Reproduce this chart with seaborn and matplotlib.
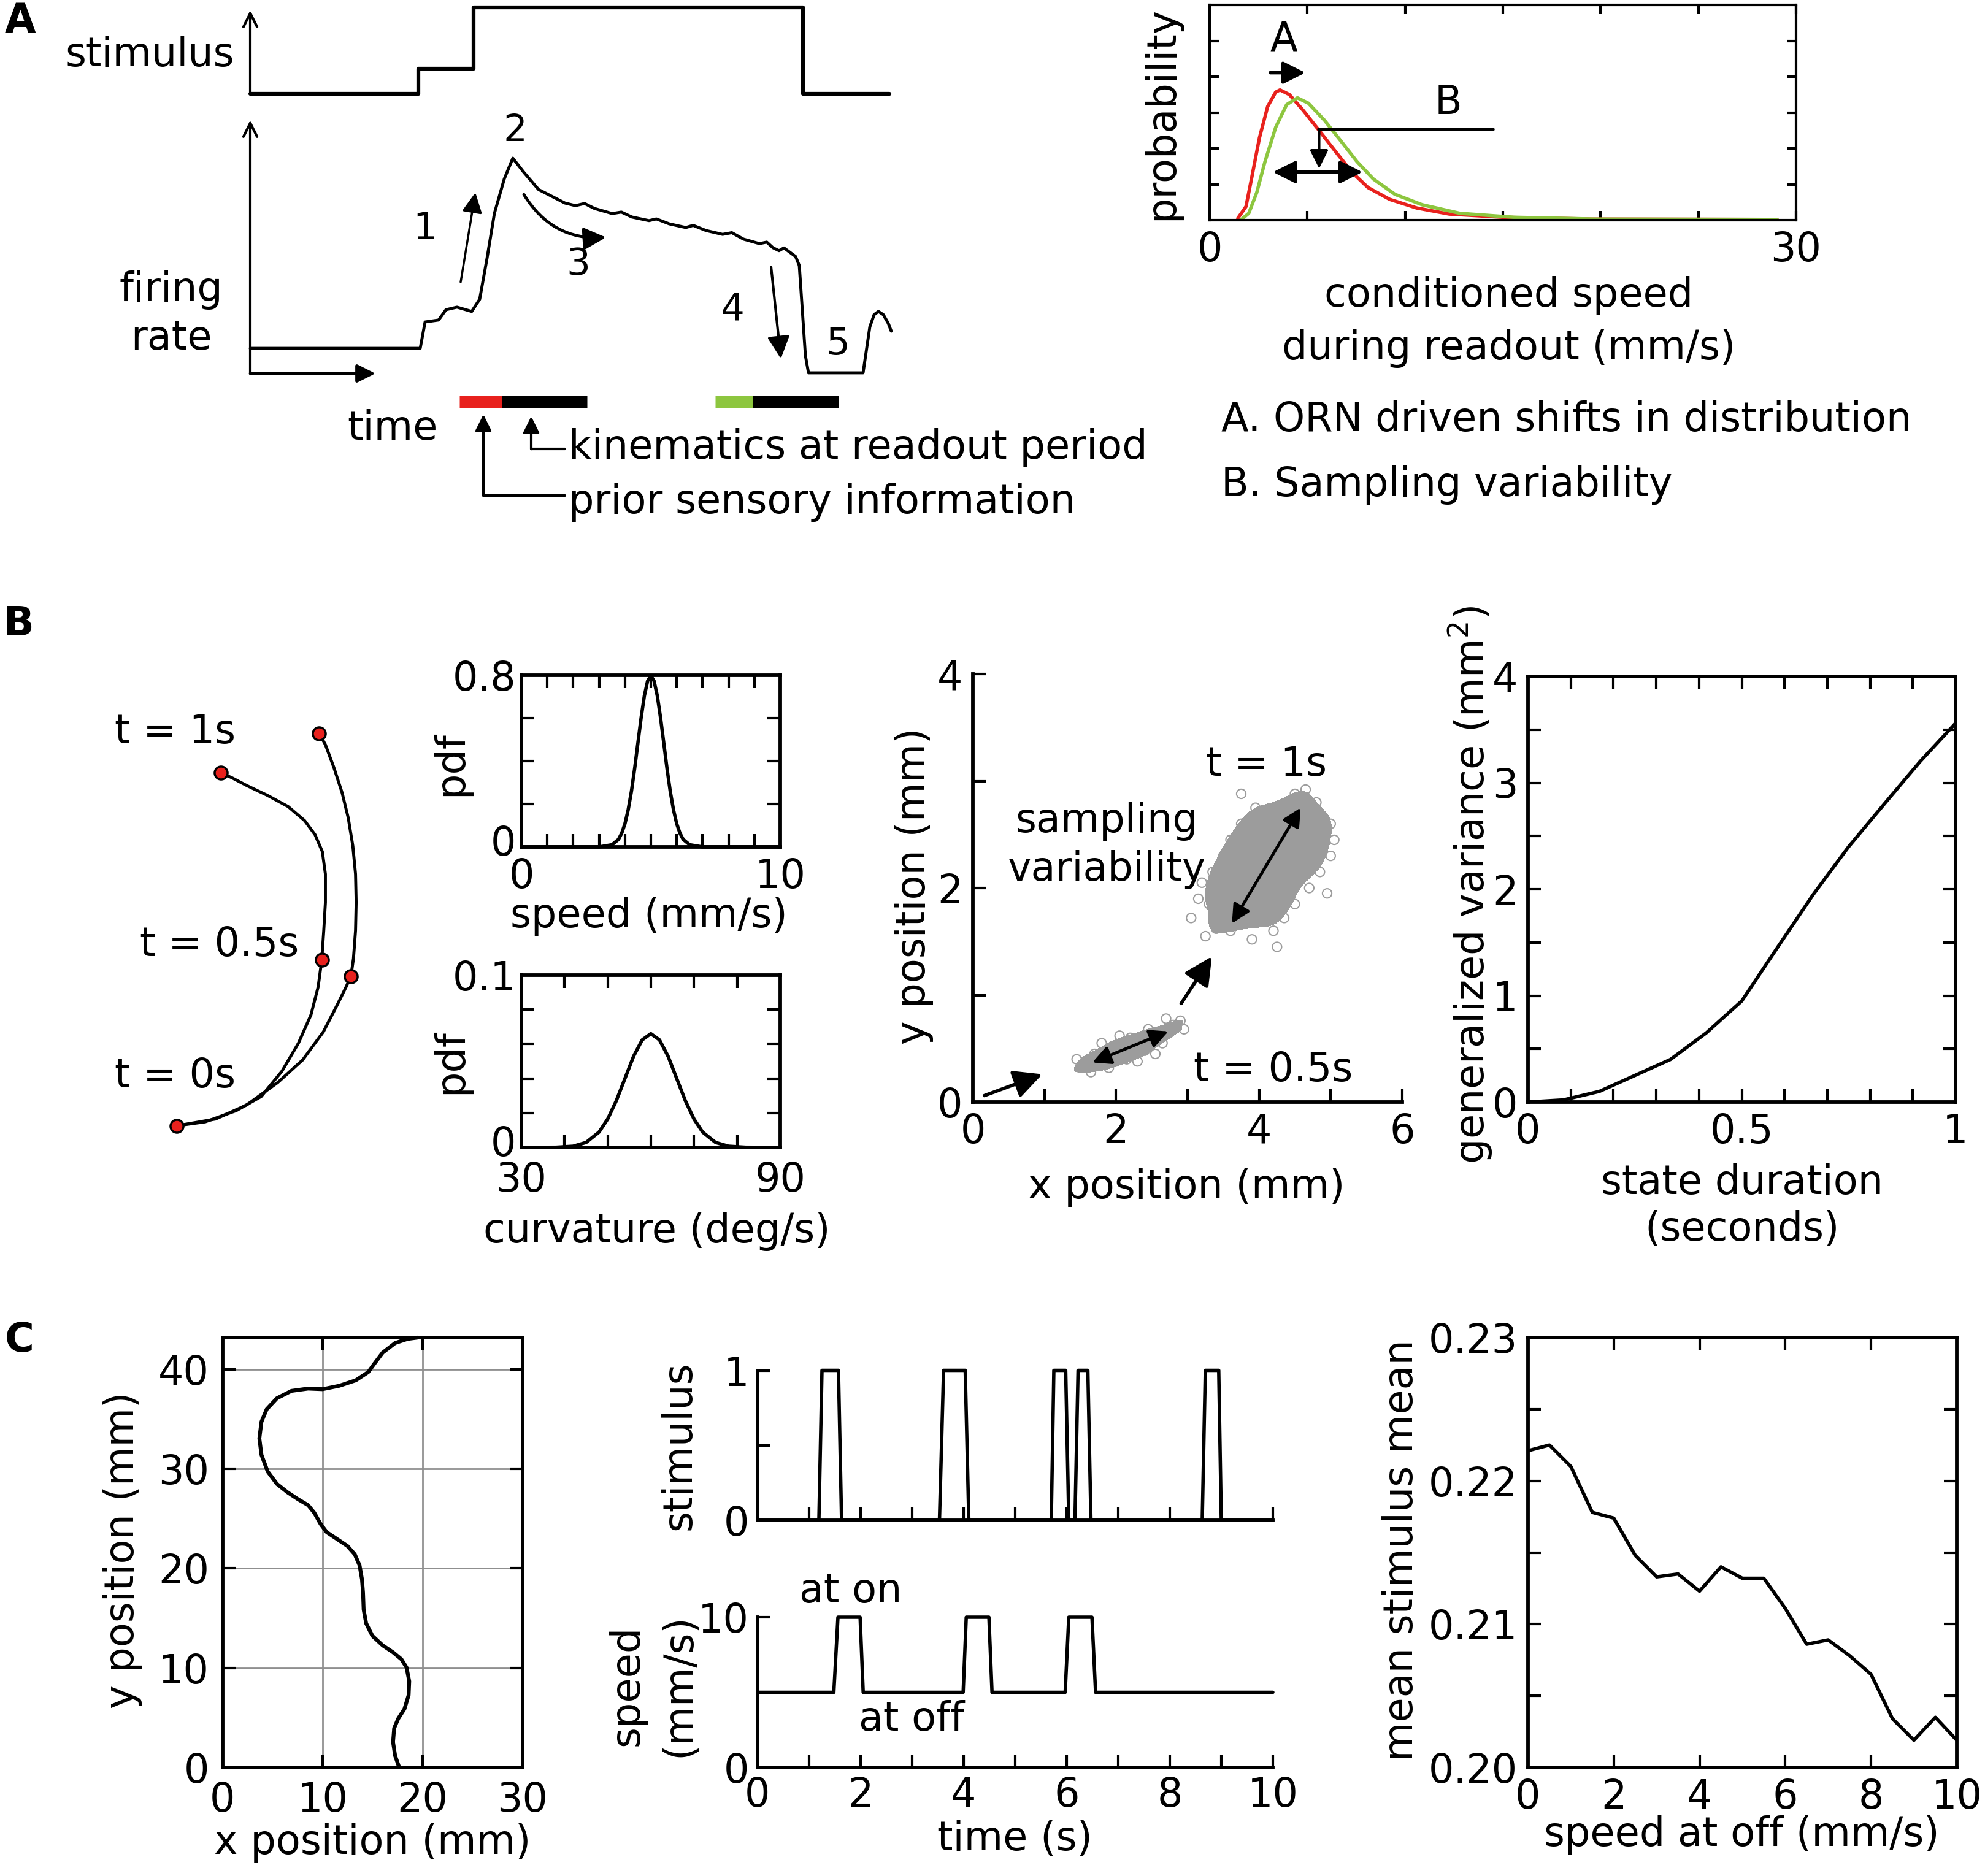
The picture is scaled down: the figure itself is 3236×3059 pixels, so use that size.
import matplotlib
matplotlib.use("Agg")
import matplotlib.pyplot as plt
from matplotlib.colors import ListedColormap
from matplotlib.transforms import ScaledTranslation
import seaborn as sns

W, H = 3236, 3059
DPI = 100
FS = 47
LW = 4.2

RED = "#e8211d"
GREEN = "#8dc63f"
GRAY = "#9c9c9c"

# ---- A: schematic stimulus and firing rate (time in a.u.)
stim_t = [0, 2.74, 2.74, 3.64, 3.64, 9.01, 9.01, 10.42]
stim_level = [0, 0, 0.29, 0.29, 1, 1, 0, 0]
rate_t = [0, 2.77, 2.85, 3.07, 3.19, 3.37, 3.61, 3.74, 3.86, 3.98,
          4.14, 4.28, 4.46, 4.70, 5.13, 5.30, 5.45, 5.61, 5.90, 6.05,
          6.22, 6.50, 6.62, 6.83, 7.10, 7.22, 7.43, 7.70, 7.85, 8.04,
          8.30, 8.42, 8.52, 8.62, 8.70, 8.89, 8.95, 9.05, 9.10, 9.99,
          10.05, 10.10, 10.17, 10.24, 10.32, 10.40, 10.45]
rate_v = [1.17, 1.17, 2.40, 2.49, 2.97, 3.09, 2.89, 3.46, 5.37, 7.46,
          9.06, 10.03, 9.37, 8.57, 7.94, 7.82, 7.92, 7.69, 7.45, 7.52,
          7.29, 7.12, 7.20, 6.97, 6.80, 6.90, 6.66, 6.48, 6.56, 6.26,
          6.05, 6.12, 5.86, 5.72, 5.85, 5.45, 5.03, 0.83, 0.03, 0.03,
          1.20, 2.17, 2.74, 2.89, 2.74, 2.34, 1.97]

# ---- A: conditioned speed distributions
red_x = [1.44, 1.86, 2.14, 2.55, 2.97, 3.38, 3.60, 4.08, 4.77, 5.60,
         6.43, 7.27, 8.10, 9.21, 10.59, 12.26, 15.03, 19.55, 29.03]
red_p = [0.005, 0.038, 0.115, 0.230, 0.317, 0.357, 0.363, 0.350, 0.307, 0.250,
         0.192, 0.134, 0.091, 0.058, 0.034, 0.017, 0.008, 0.003, 0.002]
green_x = [1.58, 2.00, 2.41, 2.83, 3.38, 3.94, 4.49, 5.05, 5.88, 6.71,
           7.54, 8.37, 9.48, 10.87, 12.81, 15.58, 19.74, 29.03]
green_p = [0.0, 0.019, 0.077, 0.163, 0.259, 0.322, 0.341, 0.326, 0.278, 0.221,
           0.163, 0.115, 0.072, 0.043, 0.019, 0.008, 0.003, 0.002]

# ---- B: example paths (mm)
path1_x = [0, 0.47, 0.977, 1.383, 1.721, 1.991, 2.194, 2.312, 2.37, 2.403,
           2.43, 2.43, 2.38, 2.261, 2.092, 1.822, 1.484, 1.146, 0.909, 0.724]
path1_y = [0, 0.065, 0.248, 0.478, 0.891, 1.35, 1.809, 2.268, 2.704, 3.186,
           3.645, 4.104, 4.471, 4.747, 4.976, 5.206, 5.389, 5.55, 5.674, 5.756]
path2_x = [0, 0.639, 1.146, 1.653, 2.059, 2.397, 2.633, 2.768, 2.846, 2.887,
           2.921, 2.931, 2.921, 2.877, 2.802, 2.701, 2.566, 2.43, 2.329]
path2_y = [0, 0.111, 0.34, 0.707, 1.075, 1.534, 1.993, 2.268, 2.442, 2.727,
           3.186, 3.645, 4.104, 4.563, 5.022, 5.435, 5.848, 6.215, 6.399]
dot_x = [0, 2.37, 0.724, 2.846, 2.329]
dot_y = [0, 2.704, 5.756, 2.442, 6.399]

# ---- B: speed and curvature pdfs
speed_x = [0, 3.0, 3.5, 3.75, 3.875, 4.0, 4.125, 4.25, 4.375, 4.5, 4.625, 4.75, 4.875, 5.0,
           5.125, 5.25, 5.375, 5.5, 5.625, 5.75, 5.875, 6.0, 6.125, 6.25, 6.5, 7.0, 10]
speed_pdf = [0, 0.0, 0.01, 0.035, 0.064, 0.108, 0.173, 0.259, 0.365, 0.484, 0.602, 0.704, 0.773, 0.798,
             0.773, 0.704, 0.602, 0.484, 0.365, 0.259, 0.173, 0.108, 0.064, 0.035, 0.01, 0.0, 0]
curv_x = [30, 38, 42, 45, 48, 50, 52, 54, 56, 58, 60, 62, 64, 66, 68, 70, 72, 75, 78, 82, 90]
curv_pdf = [0, 0.0001, 0.0007, 0.0029, 0.0089, 0.0165, 0.0271, 0.040, 0.0529, 0.0624, 0.066,
            0.0624, 0.0529, 0.040, 0.0271, 0.0165, 0.0089, 0.0029, 0.0007, 0.0001, 0]

# ---- B: endpoint clouds at t = 0.5 s and t = 1 s
small_x = [1.50, 1.60, 1.75, 1.90, 1.70, 1.85, 2.00, 2.15, 1.95, 2.10, 2.25, 2.40, 2.20, 2.35,
           2.50, 2.65, 2.45, 2.60, 2.75, 2.80, 2.90, 2.05, 1.80, 2.30, 2.55, 1.65, 2.70, 2.95,
           1.45, 1.75, 1.90, 2.05, 2.20, 2.30, 2.45, 2.60, 2.15, 2.00, 1.60]
small_y = [0.32, 0.38, 0.35, 0.32, 0.45, 0.45, 0.42, 0.40, 0.52, 0.52, 0.50, 0.48, 0.60, 0.60,
           0.58, 0.55, 0.68, 0.66, 0.65, 0.72, 0.76, 0.62, 0.55, 0.38, 0.45, 0.28, 0.78, 0.68,
           0.40, 0.40, 0.48, 0.47, 0.45, 0.55, 0.55, 0.60, 0.55, 0.38, 0.33]
big_x = [3.25, 3.60, 3.90, 4.20, 3.45, 3.75, 4.05, 4.35, 3.30, 3.60, 3.90, 4.20, 4.50, 3.50,
         3.80, 4.10, 4.40, 4.70, 3.35, 3.65, 3.95, 4.25, 4.55, 4.85, 3.50, 3.80, 4.10, 4.40,
         4.70, 5.00, 3.60, 3.90, 4.20, 4.50, 4.80, 3.75, 4.05, 4.35, 4.65, 4.90, 3.95, 4.25,
         4.55, 4.80, 4.50, 4.65, 3.20, 5.05, 3.40, 3.75, 4.25, 3.05, 4.95, 3.15, 5.00,
         3.70, 4.00, 4.30, 3.55, 3.85, 4.15, 4.45, 4.75, 3.70, 4.00, 4.30, 4.60, 3.85, 4.15,
         4.45, 4.75, 3.60, 3.90, 4.20, 4.00, 4.30, 4.60]
big_y = [1.55, 1.60, 1.52, 1.60, 1.72, 1.70, 1.75, 1.72, 1.85, 1.88, 1.85, 1.90, 1.85, 2.00,
         2.02, 2.00, 2.05, 2.00, 2.15, 2.15, 2.18, 2.15, 2.20, 2.15, 2.30, 2.30, 2.32, 2.30,
         2.35, 2.30, 2.45, 2.45, 2.48, 2.45, 2.50, 2.60, 2.60, 2.62, 2.60, 2.65, 2.75, 2.75,
         2.78, 2.80, 2.88, 2.92, 2.05, 2.45, 1.62, 2.88, 1.45, 1.72, 1.95, 1.90, 2.60,
         1.95, 1.92, 1.98, 2.22, 2.24, 2.24, 2.26, 2.26, 2.38, 2.38, 2.40, 2.40, 2.52, 2.54,
         2.54, 2.56, 1.78, 1.78, 1.82, 2.68, 2.68, 2.70]

# ---- B: generalized variance vs state duration
dur_s = [0, 0.083, 0.167, 0.25, 0.333, 0.417, 0.5, 0.583, 0.667, 0.75, 0.833, 0.917, 1.0]
gen_var = [0, 0.02, 0.1, 0.25, 0.4, 0.65, 0.95, 1.45, 1.95, 2.4, 2.8, 3.2, 3.56]

# ---- C: track, stimulus and speed time courses, conditioned stimulus mean
track_x = [17.66, 17.25, 17.04, 17.15, 17.56, 18.18, 18.60, 18.66, 18.39, 17.87, 17.04,
           16.01, 14.97, 14.35, 14.10, 14.04, 13.93, 13.69, 13.21, 12.48, 11.44, 10.41,
           9.79, 9.17, 8.54, 7.51, 6.47, 5.43, 4.50, 3.88, 3.67, 3.88, 4.40, 5.43, 6.88,
           8.54, 9.99, 11.65, 13.31, 14.56, 15.17, 16.00, 17.25, 18.49, 19.53]
track_y = [0, 1.17, 2.55, 3.94, 4.91, 5.88, 7.27, 8.66, 10.04, 10.88, 11.57,
           12.26, 13.23, 14.48, 15.87, 17.54, 18.92, 20.31, 21.42, 22.25, 22.95, 23.64,
           24.47, 25.58, 26.36, 26.97, 27.66, 28.49, 29.74, 31.41, 33.07, 34.74, 35.99, 37.10, 37.84,
           38.07, 38.01, 38.35, 38.90, 39.73, 40.57, 41.68, 42.65, 43.06, 43.2]
stim_c_t = [0, 1.19, 1.25, 1.57, 1.63, 3.53, 3.61, 4.03, 4.10, 5.70, 5.75, 5.98, 6.04,
            6.16, 6.22, 6.41, 6.47, 8.63, 8.69, 8.95, 9.00, 10]
stim_c_v = [0, 0, 1, 1, 0, 0, 1, 1, 0, 0, 1, 1, 0, 0, 1, 1, 0, 0, 1, 1, 0, 0]
speed_c_t = [0, 1.48, 1.56, 1.99, 2.05, 3.99, 4.05, 4.49, 4.55, 5.97, 6.04, 6.49, 6.56, 10]
speed_c_v = [5, 5, 10, 10, 5, 5, 10, 10, 5, 5, 10, 10, 5, 5]
off_speed = [0, 0.5, 1, 1.5, 2, 2.5, 3, 3.5, 4, 4.5, 5, 5.5, 6, 6.5, 7, 7.5, 8, 8.5, 9, 9.5, 10]
stim_mean = [0.2221, 0.2225, 0.2210, 0.2178, 0.2174, 0.2148, 0.2133, 0.2135, 0.2123, 0.2140,
             0.2132, 0.2132, 0.2111, 0.2086, 0.2089, 0.2078, 0.2065, 0.2034, 0.2019, 0.2035, 0.2019]


def add_box(fig, x0, y0, x1, y1):
    """Axes placed by pixel box of the full figure"""
    return fig.add_axes([x0 / W, 1 - y1 / H, (x1 - x0) / W, (y1 - y0) / H])


def line(ax, x, y, color="k", lw=LW, **kw):
    sns.lineplot(x=x, y=y, ax=ax, color=color, lw=lw, sort=False,
                 estimator=None, legend=False, **kw)


def arrow(ax, start, end, style="-|>", lw=3, scale=50, **kw):
    ax.annotate("", xy=end, xytext=start, annotation_clip=False,
                arrowprops=dict(arrowstyle=style, lw=lw, color="k", mutation_scale=scale,
                                shrinkA=0, shrinkB=0, **kw))


def style(ax, box=True, pad=12, lw=LW, length=15):
    ax.spines["top"].set_visible(box)
    ax.spines["right"].set_visible(box)
    for s in ax.spines.values():
        s.set_linewidth(lw)
    for which in ["major", "minor"]:
        ax.tick_params(which=which, direction="in", length=length, width=3,
                       top=box, right=box, labelsize=FS, pad=pad)


def labels(ax, fig, xlabel=None, xc=None, ylabel=None, yc=None, xls=1.2, yls=1.2):
    if xlabel is not None:
        ax.set_xlabel(xlabel, va="center", ha="center", linespacing=xls, fontsize=FS)
        ax.xaxis.set_label_coords(xc[0] / W, 1 - xc[1] / H, transform=fig.transFigure)
    if ylabel is not None:
        ax.set_ylabel(ylabel, va="center", ha="center", linespacing=yls, fontsize=FS)
        ax.yaxis.set_label_coords(yc[0] / W, 1 - yc[1] / H, transform=fig.transFigure)


def lift_first_ylabel(ax, fig, points=8):
    """Nudge the lowest y tick label up so it clears the x tick label below"""
    lbl = ax.get_yticklabels()[0]
    lbl.set_transform(lbl.get_transform() + ScaledTranslation(0, points / 72, fig.dpi_scale_trans))


def plot_a_schematic(fig):
    ax = add_box(fig, 150, 5.3, 1460, 166.6)
    ax.set_xlim(-2.58, 10.52)
    ax.set_ylim(-0.1, 1.05)
    ax.axis("off")
    line(ax, stim_t, stim_level, lw=4.5)
    arrow(ax, (0, 0), (0, 0.967), style="->", lw=3, scale=40)
    ax.text(-0.26, 0.446, "stimulus", ha="right", va="center", fontsize=FS)

    ax = add_box(fig, 150, 189, 1460, 882)
    ax.set_xlim(-2.58, 10.52)
    ax.set_ylim(-7.8, 12)
    ax.axis("off")
    line(ax, rate_t, rate_v, lw=3.5)
    arrow(ax, (0, 0), (0, 11.8), style="->", lw=3, scale=40)
    arrow(ax, (0, 0), (2.04, 0), style="-|>", lw=3.5, scale=45)
    ax.text(-1.29, 2.77, "firing\nrate", ha="center", va="center", fontsize=FS, linespacing=1.3)

    arrow(ax, (3.43, 4.26), (3.67, 8.43), lw=2.5, scale=50)
    arrow(ax, (4.46, 8.34), (5.80, 6.34), lw=3.5, scale=55, connectionstyle="arc3,rad=0.3")
    arrow(ax, (8.49, 4.97), (8.65, 0.69), lw=3, scale=55)
    for num, (x, y) in zip("12345", [(2.85, 6.74), (4.32, 11.3), (5.35, 5.06),
                                     (7.86, 2.97), (9.58, 1.37)]):
        ax.text(x, y, num, ha="center", va="center", fontsize=FS - 3)

    # readout bars
    ax.plot([3.41, 4.10], [-1.31, -1.31], color=RED, lw=14, solid_capstyle="butt")
    ax.plot([4.10, 5.49], [-1.31, -1.31], color="k", lw=14, solid_capstyle="butt")
    ax.plot([7.58, 8.19], [-1.31, -1.31], color=GREEN, lw=14, solid_capstyle="butt")
    ax.plot([8.19, 9.59], [-1.31, -1.31], color="k", lw=14, solid_capstyle="butt")
    ax.text(2.32, -2.57, "time", ha="center", va="center", fontsize=FS)

    ax.plot([3.80, 5.13], [-5.69, -5.69], color="k", lw=3)
    arrow(ax, (3.80, -5.69), (3.80, -1.91), lw=3, scale=40)
    ax.text(5.19, -6.0, "prior sensory information", ha="left", va="center", fontsize=FS)
    ax.plot([4.58, 5.13], [-3.52, -3.52], color="k", lw=3)
    arrow(ax, (4.58, -3.52), (4.58, -2.0), lw=3, scale=40)
    ax.text(5.19, -3.45, "kinematics at readout period", ha="left", va="center", fontsize=FS)


def plot_a_distribution(fig):
    ax = add_box(fig, 1972, 8, 2928, 359)
    line(ax, red_x, red_p, color=RED, lw=4)
    line(ax, green_x, green_p, color=GREEN, lw=4)
    ax.set_xlim(0, 30)
    ax.set_ylim(0, 0.6)
    ax.set_xticks([0, 30])
    ax.set_xticks([5, 10, 15, 20, 25], minor=True)
    ax.set_yticks([0.1, 0.2, 0.3, 0.4, 0.5])
    style(ax, lw=3, length=11)
    ax.tick_params(labelleft=False)

    ax.text(3.8, 0.504, "A", ha="center", va="center", fontsize=FS)
    arrow(ax, (3.1, 0.411), (4.9, 0.411), lw=4, scale=55)
    ax.text(12.2, 0.326, "B", ha="center", va="center", fontsize=FS)
    ax.plot([5.6, 14.5], [0.253, 0.253], color="k", lw=4)
    arrow(ax, (5.6, 0.253), (5.6, 0.144), lw=3, scale=45)
    arrow(ax, (3.24, 0.134), (7.82, 0.134), style="<|-|>", lw=4, scale=55)

    labels(ax, fig, "conditioned speed\nduring readout (mm/s)", (2460, 525),
           "probability", (1894, 185), xls=1.45)
    fig.text(1991 / W, 1 - 685 / H, "A. ORN driven shifts in distribution",
             ha="left", va="center", fontsize=FS)
    fig.text(1991 / W, 1 - 791 / H, "B. Sampling variability",
             ha="left", va="center", fontsize=FS)


def plot_b_paths(fig):
    ax = add_box(fig, 137.5, 1135.8, 657.5, 1895.8)
    ax.set_xlim(-1.5, 3.7)
    ax.set_ylim(-0.6, 7.0)
    ax.axis("off")
    line(ax, path1_x, path1_y, lw=3.5)
    line(ax, path2_x, path2_y, lw=3.5)
    sns.scatterplot(x=dot_x, y=dot_y, ax=ax, color=RED, edgecolor="k", s=230,
                    linewidth=2.5, zorder=5, legend=False)
    ax.text(-0.02, 6.42, "t = 1s", ha="center", va="center", fontsize=FS)
    ax.text(0.70, 2.95, "t = 0.5s", ha="center", va="center", fontsize=FS)
    ax.text(-0.02, 0.81, "t = 0s", ha="center", va="center", fontsize=FS)


def plot_b_pdfs(fig):
    ax = add_box(fig, 850, 1101, 1272, 1381)
    line(ax, speed_x, speed_pdf, lw=4, clip_on=False)
    ax.set_xlim(0, 10)
    ax.set_ylim(0, 0.8)
    ax.set_xticks([0, 10])
    ax.set_xticks(range(1, 10), minor=True)
    ax.set_yticks([0, 0.8], labels=["0", "0.8"])
    ax.set_yticks([0.2, 0.4, 0.6], minor=True)
    style(ax, pad=6)
    ax.tick_params(axis="x", pad=12)
    lift_first_ylabel(ax, fig)
    labels(ax, fig, "speed (mm/s)", (1058, 1494), "pdf", (735, 1245))

    ax = add_box(fig, 850, 1590, 1272, 1871)
    line(ax, curv_x, curv_pdf, lw=4)
    ax.set_xlim(30, 90)
    ax.set_ylim(0, 0.1)
    ax.set_xticks([30, 90])
    ax.set_xticks([40, 50, 60, 70, 80], minor=True)
    ax.set_yticks([0, 0.1], labels=["0", "0.1"])
    ax.set_yticks([0.02, 0.04, 0.06, 0.08], minor=True)
    style(ax, pad=6)
    ax.tick_params(axis="x", pad=16)
    lift_first_ylabel(ax, fig)
    labels(ax, fig, "curvature (deg/s)", (1071, 2008), "pdf", (735, 1731))


def plot_b_scatter(fig):
    ax = add_box(fig, 1586, 1099, 2286, 1797)
    cmap = ListedColormap([GRAY])
    sns.kdeplot(x=big_x, y=big_y, ax=ax, fill=True, levels=[0.3, 1], cmap=cmap, bw_adjust=0.8)
    sns.kdeplot(x=small_x, y=small_y, ax=ax, fill=True, levels=[0.3, 1], cmap=cmap, bw_adjust=0.8)
    for xs, ys in [(big_x, big_y), (small_x, small_y)]:
        sns.scatterplot(x=xs, y=ys, ax=ax, marker="o", s=120, color=GRAY, facecolor="none",
                        edgecolor=GRAY, linewidth=1.5, legend=False)
    ax.set_xlim(0, 6)
    ax.set_ylim(0, 4)
    ax.set_xticks([0, 2, 4, 6])
    ax.set_xticks([1, 3, 5], minor=True)
    ax.set_yticks([0, 2, 4])
    ax.set_yticks([1, 3], minor=True)
    style(ax, box=False, pad=12)

    arrow(ax, (0.16, 0.06), (0.97, 0.26), lw=4, scale=70)
    arrow(ax, (2.91, 0.92), (3.34, 1.36), lw=4, scale=70)
    arrow(ax, (1.67, 0.37), (2.73, 0.66), style="<|-|>", lw=3.5, scale=45)
    arrow(ax, (3.62, 1.67), (4.58, 2.75), style="<|-|>", lw=3.5, scale=45)
    ax.text(4.1, 3.15, "t = 1s", ha="center", va="center", fontsize=FS)
    ax.text(4.2, 0.30, "t = 0.5s", ha="center", va="center", fontsize=FS)
    ax.text(1.87, 2.4, "sampling\nvariability", ha="center", va="center",
            fontsize=FS, linespacing=1.3)
    labels(ax, fig, "x position (mm)", (1934, 1936), "y position (mm)", (1490, 1445))


def plot_b_variance(fig):
    ax = add_box(fig, 2491, 1103, 3188, 1797)
    line(ax, dur_s, gen_var, lw=4)
    ax.set_xlim(0, 1)
    ax.set_ylim(0, 4)
    ax.set_xticks([0, 0.5, 1], labels=["0", "0.5", "1"])
    ax.set_xticks([0.1, 0.2, 0.3, 0.4, 0.6, 0.7, 0.8, 0.9], minor=True)
    ax.set_yticks([0, 1, 2, 3, 4])
    ax.set_yticks([0.5, 1.5, 2.5, 3.5], minor=True)
    style(ax, pad=12)
    labels(ax, fig, "state duration\n(seconds)", (2840, 1967),
           "generalized variance (mm$^2$)", (2397, 1443), xls=1.25)


def plot_c_track(fig):
    ax = add_box(fig, 363, 2181, 852, 2882)
    ax.grid(True, color="#8f8f8f", lw=2)
    ax.set_axisbelow(True)
    line(ax, track_x, track_y, lw=4.5, clip_on=False)
    ax.set_xlim(0, 30)
    ax.set_ylim(0, 43.2)
    ax.set_xticks([0, 10, 20, 30])
    ax.set_yticks([0, 10, 20, 30, 40])
    style(ax, pad=16)
    labels(ax, fig, "x position (mm)", (607, 3005), "y position (mm)", (200, 2528))


def plot_c_timecourse(fig):
    ax = add_box(fig, 1235, 2234.5, 2075, 2479)
    line(ax, stim_c_t, stim_c_v, lw=4, clip_on=False)
    ax.set_xlim(0, 10)
    ax.set_ylim(0, 1)
    ax.set_xticks(range(0, 11))
    ax.set_yticks([0, 1])
    ax.set_yticks([0.5], minor=True)
    style(ax, box=False, pad=10)
    ax.tick_params(labelbottom=False)
    labels(ax, fig, ylabel="stimulus", yc=(1107, 2357))

    ax = add_box(fig, 1235, 2637, 2075, 2882)
    line(ax, speed_c_t, speed_c_v, lw=4, clip_on=False)
    ax.set_xlim(0, 10)
    ax.set_ylim(0, 10)
    ax.set_xticks([0, 2, 4, 6, 8, 10])
    ax.set_xticks([1, 3, 5, 7, 9], minor=True)
    ax.set_yticks([0, 10])
    style(ax, box=False, pad=10)
    ax.text(1.80, 11.7, "at on", ha="center", va="center", fontsize=FS)
    ax.text(2.99, 3.2, "at off", ha="center", va="center", fontsize=FS)
    labels(ax, fig, "time (s)", (1654, 2999), "speed\n(mm/s)", (1065, 2748), yls=1.4)


def plot_c_mean(fig):
    ax = add_box(fig, 2491, 2181, 3190, 2882)
    line(ax, off_speed, stim_mean, lw=4)
    ax.set_xlim(0, 10)
    ax.set_ylim(0.20, 0.23)
    ax.set_xticks([0, 2, 4, 6, 8, 10])
    ax.set_yticks([0.20, 0.21, 0.22, 0.23], labels=["0.20", "0.21", "0.22", "0.23"])
    ax.set_yticks([0.205, 0.215, 0.225], minor=True)
    style(ax, pad=12)
    labels(ax, fig, "speed at off (mm/s)", (2839, 2992), "mean stimulus mean", (2285, 2528))


def main():
    sns.set_style("ticks", rc={"axes.edgecolor": "black", "text.color": "black",
                               "xtick.color": "black", "ytick.color": "black",
                               "axes.labelcolor": "black"})
    plt.rcParams["font.family"] = ["DejaVu Sans"]
    plt.rcParams["font.size"] = FS

    fig = plt.figure(figsize=(W / DPI, H / DPI), dpi=DPI)
    plot_a_schematic(fig)
    plot_a_distribution(fig)
    plot_b_paths(fig)
    plot_b_pdfs(fig)
    plot_b_scatter(fig)
    plot_b_variance(fig)
    plot_c_track(fig)
    plot_c_timecourse(fig)
    plot_c_mean(fig)

    for letter, (x, y) in zip("ABC", [(33, 35), (31, 1018), (32, 2186)]):
        fig.text(x / W, 1 - y / H, letter, fontsize=FS, fontweight="bold",
                 ha="center", va="center")
    fig.savefig("out.png", dpi=DPI)


if __name__ == "__main__":
    main()
